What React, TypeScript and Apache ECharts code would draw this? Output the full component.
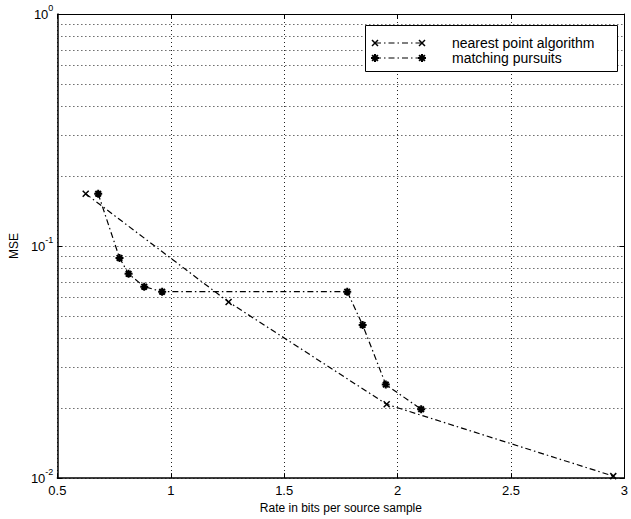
import React, { useEffect, useRef } from "react";
import * as echarts from "echarts";

// ---- data ----
const nearestRate = [0.625, 1.255, 1.952, 2.951];
const nearestMSE = [0.168, 0.0574, 0.0208, 0.0102];

const mpRate = [0.68, 0.774, 0.814, 0.883, 0.962, 1.778, 1.846, 1.948, 2.104];
const mpMSE = [0.168, 0.0889, 0.0759, 0.0668, 0.0636, 0.0636, 0.0457, 0.0253, 0.0198];

const seriesNames = ["nearest point algorithm", "matching pursuits"];
const minorGridValues = [
  0.02, 0.03, 0.04, 0.05, 0.06, 0.07, 0.08, 0.09,
  0.2, 0.3, 0.4, 0.5, 0.6, 0.7, 0.8, 0.9,
];
const xAxisName = "Rate in bits per source sample";
const yAxisName = "MSE";
const xMin = 0.5;
const xMax = 3;
const xInterval = 0.5;
const yMin = 0.01;
const yMax = 1;

const FONT = "'Liberation Sans', Arial, Helvetica, sans-serif";
const X_PATH = "path://M0,0L10,10M10,0L0,10";
const STAR_PATH = "path://M5,0L5,10M0,5L10,5M1.5,1.5L8.5,8.5M8.5,1.5L1.5,8.5";
const DASH_DOT = [6, 3, 1.5, 3];
const GRID_DOT = [1, 3];
const GRID_COLOR = "#222";

function xMark(cx: number, cy: number, r: number) {
  return [
    { type: "line", z: 101, shape: { x1: cx - r, y1: cy - r, x2: cx + r, y2: cy + r }, style: { stroke: "#000", lineWidth: 1.5 } },
    { type: "line", z: 101, shape: { x1: cx + r, y1: cy - r, x2: cx - r, y2: cy + r }, style: { stroke: "#000", lineWidth: 1.5 } },
  ];
}
function starMark(cx: number, cy: number, r: number) {
  const d = r * 0.72;
  return [
    { type: "line", z: 101, shape: { x1: cx - r, y1: cy, x2: cx + r, y2: cy }, style: { stroke: "#000", lineWidth: 2 } },
    { type: "line", z: 101, shape: { x1: cx, y1: cy - r, x2: cx, y2: cy + r }, style: { stroke: "#000", lineWidth: 2 } },
    { type: "line", z: 101, shape: { x1: cx - d, y1: cy - d, x2: cx + d, y2: cy + d }, style: { stroke: "#000", lineWidth: 2 } },
    { type: "line", z: 101, shape: { x1: cx + d, y1: cy - d, x2: cx - d, y2: cy + d }, style: { stroke: "#000", lineWidth: 2 } },
  ];
}

export default function App() {
  const ref = useRef<HTMLDivElement>(null);

  useEffect(() => {
    if (!ref.current) return;
    const chart = echarts.init(ref.current, undefined, { renderer: "svg" });

    const rows = [
      { y: 43, name: seriesNames[0], mark: xMark, r: 3 },
      { y: 58, name: seriesNames[1], mark: starMark, r: 4 },
    ];
    const legendEls: any[] = [
      {
        type: "rect",
        z: 100,
        shape: { x: 365.5, y: 25.5, width: 252, height: 46 },
        style: { fill: "#fff", stroke: "#000", lineWidth: 1 },
      },
    ];
    rows.forEach((row) => {
      legendEls.push({
        type: "line",
        z: 101,
        shape: { x1: 375, y1: row.y, x2: 422, y2: row.y },
        style: { stroke: "#000", lineWidth: 1.2, lineDash: DASH_DOT },
      });
      legendEls.push(...row.mark(375, row.y, row.r));
      legendEls.push(...row.mark(422, row.y, row.r));
      legendEls.push({
        type: "text",
        z: 101,
        style: {
          text: row.name,
          x: 452,
          y: row.y,
          fill: "#000",
          fontSize: 14,
          fontFamily: FONT,
          verticalAlign: "middle",
          align: "left",
        },
      });
    });

    const axisLine = { show: true, lineStyle: { color: "#000", width: 1.5 } };
    const thinAxisLine = { show: true, lineStyle: { color: "#000", width: 1 } };

    chart.setOption({
      animation: false,
      backgroundColor: "#fff",
      grid: { left: 52, top: 14, right: 2, bottom: 37 },
      xAxis: [
        {
          type: "value",
          min: xMin,
          max: xMax,
          interval: xInterval,
          name: xAxisName,
          nameLocation: "middle",
          nameGap: 22,
          nameTextStyle: { color: "#000", fontSize: 12, fontFamily: FONT },
          axisLine,
          axisTick: { show: true, inside: true, length: 5, lineStyle: { color: "#000" } },
          axisLabel: {
            color: "#000",
            fontSize: 13,
            fontFamily: FONT,
            margin: 6,
            showMinLabel: true,
            showMaxLabel: true,
          },
          splitLine: { show: true, lineStyle: { color: GRID_COLOR, type: GRID_DOT, width: 1 } },
        },
        {
          type: "value",
          position: "top",
          min: xMin,
          max: xMax,
          interval: xInterval,
          axisLine: thinAxisLine,
          axisTick: { show: true, inside: true, length: 5, lineStyle: { color: "#000" } },
          axisLabel: { show: false },
          splitLine: { show: false },
        },
      ],
      yAxis: [
        {
          type: "log",
          logBase: 10,
          min: yMin,
          max: yMax,
          name: yAxisName,
          nameLocation: "middle",
          nameGap: 34,
          nameTextStyle: { color: "#000", fontSize: 12, fontFamily: FONT },
          axisLine,
          axisTick: { show: true, inside: true, length: 5, lineStyle: { color: "#000" } },
          axisLabel: {
            margin: 4,
            showMinLabel: true,
            showMaxLabel: true,
            formatter: (v: number) => {
              const e = Math.round(Math.log10(v));
              return `{b|10}{s|${e === 0 ? "0" : "-" + Math.abs(e)}}`;
            },
            rich: {
              b: { fontSize: 13, lineHeight: 22, color: "#000", fontFamily: FONT },
              s: { fontSize: 9, lineHeight: 9, verticalAlign: "top", color: "#000", fontFamily: FONT },
            },
          },
          splitLine: { show: true, lineStyle: { color: GRID_COLOR, type: GRID_DOT, width: 1 } },
        },
        {
          type: "log",
          logBase: 10,
          position: "right",
          min: yMin,
          max: yMax,
          axisLine: thinAxisLine,
          axisTick: { show: true, inside: true, length: 5, lineStyle: { color: "#000" } },
          axisLabel: { show: false },
          splitLine: { show: false },
        },
      ],
      series: [
        {
          name: seriesNames[0],
          type: "line",
          xAxisIndex: 0,
          yAxisIndex: 0,
          data: nearestRate.map((r, i) => [r, nearestMSE[i]]),
          symbol: X_PATH,
          symbolSize: 6,
          itemStyle: { color: "#000", borderColor: "#000", borderWidth: 1.5 },
          lineStyle: { color: "#000", width: 1.2, type: DASH_DOT },
          z: 3,
          markLine: {
            silent: true,
            symbol: ["none", "none"],
            label: { show: false },
            lineStyle: { color: GRID_COLOR, type: GRID_DOT, width: 1 },
            data: minorGridValues.map((v) => ({ yAxis: v })),
            z: 1,
          },
        },
        {
          name: seriesNames[1],
          type: "line",
          xAxisIndex: 0,
          yAxisIndex: 0,
          data: mpRate.map((r, i) => [r, mpMSE[i]]),
          symbol: STAR_PATH,
          symbolSize: 8,
          itemStyle: { color: "#000", borderColor: "#000", borderWidth: 2 },
          lineStyle: { color: "#000", width: 1.2, type: DASH_DOT },
          z: 3,
        },
      ],
      graphic: legendEls,
    });

    return () => chart.dispose();
  }, []);

  return (
    <div
      ref={ref}
      style={{ position: "absolute", left: 0, top: 0, width: 631, height: 519 }}
    />
  );
}
